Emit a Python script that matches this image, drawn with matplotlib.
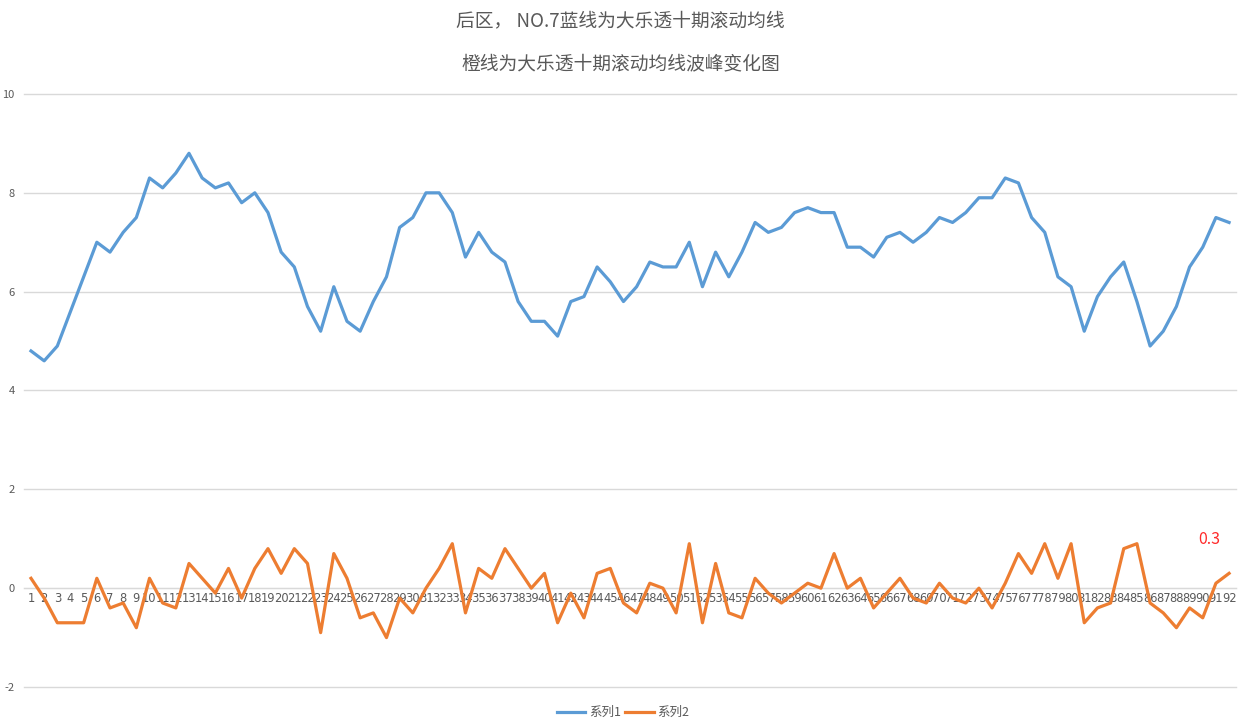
import matplotlib
matplotlib.use("Agg")
import matplotlib.pyplot as plt

plt.rcParams['font.family'] = ['Noto Sans CJK SC', 'DejaVu Sans']

periods = list(range(1, 93))
series1 = [4.8, 4.6, 4.9, 5.6, 6.3, 7.0, 6.8, 7.2, 7.5, 8.3,
           8.1, 8.4, 8.8, 8.3, 8.1, 8.2, 7.8, 8.0, 7.6, 6.8,
           6.5, 5.7, 5.2, 6.1, 5.4, 5.2, 5.8, 6.3, 7.3, 7.5,
           8.0, 8.0, 7.6, 6.7, 7.2, 6.8, 6.6, 5.8, 5.4, 5.4,
           5.1, 5.8, 5.9, 6.5, 6.2, 5.8, 6.1, 6.6, 6.5, 6.5,
           7.0, 6.1, 6.8, 6.3, 6.8, 7.4, 7.2, 7.3, 7.6, 7.7,
           7.6, 7.6, 6.9, 6.9, 6.7, 7.1, 7.2, 7.0, 7.2, 7.5,
           7.4, 7.6, 7.9, 7.9, 8.3, 8.2, 7.5, 7.2, 6.3, 6.1,
           5.2, 5.9, 6.3, 6.6, 5.8, 4.9, 5.2, 5.7, 6.5, 6.9,
           7.5, 7.4]
series2 = [0.2, -0.2, -0.7, -0.7, -0.7, 0.2, -0.4, -0.3, -0.8, 0.2,
           -0.3, -0.4, 0.5, 0.2, -0.1, 0.4, -0.2, 0.4, 0.8, 0.3,
           0.8, 0.5, -0.9, 0.7, 0.2, -0.6, -0.5, -1.0, -0.2, -0.5,
           0.0, 0.4, 0.9, -0.5, 0.4, 0.2, 0.8, 0.4, 0.0, 0.3,
           -0.7, -0.1, -0.6, 0.3, 0.4, -0.3, -0.5, 0.1, 0.0, -0.5,
           0.9, -0.7, 0.5, -0.5, -0.6, 0.2, -0.1, -0.3, -0.1, 0.1,
           0.0, 0.7, 0.0, 0.2, -0.4, -0.1, 0.2, -0.2, -0.3, 0.1,
           -0.2, -0.3, 0.0, -0.4, 0.1, 0.7, 0.3, 0.9, 0.2, 0.9,
           -0.7, -0.4, -0.3, 0.8, 0.9, -0.3, -0.5, -0.8, -0.4, -0.6,
           0.1, 0.3]
series_names = ["系列1", "系列2"]
y_ticks = [-2, 0, 2, 4, 6, 8, 10]
title_lines = ["后区， NO.7蓝线为大乐透十期滚动均线", "橙线为大乐透十期滚动均线波峰变化图"]
note_text = "0.3"

fig = plt.figure(figsize=(12.46, 7.28), dpi=100)
ax = fig.add_axes([0.0196, 0.0563, 0.9721, 0.8146])

ax.plot(periods, series1, color='#5B9BD5', lw=2.3, label=series_names[0], zorder=3)
ax.plot(periods, series2, color='#ED7D31', lw=2.3, label=series_names[1], zorder=3)

ax.set_xlim(0.5, 92.5)
ax.set_ylim(-2, 10)
ax.set_yticks(y_ticks)
ax.set_yticklabels([str(t) for t in y_ticks])
ax.set_xticks(periods)
ax.set_xticklabels([str(p) for p in periods])
ax.grid(axis='y', color='#D9D9D9', lw=1)
for gl in ax.get_ygridlines():
    gl.set_clip_on(False)
ax.set_axisbelow(True)
for s in ['top', 'right', 'left']:
    ax.spines[s].set_visible(False)
ax.spines['bottom'].set_position(('data', 0))
ax.spines['bottom'].set_color('#D9D9D9')
ax.spines['bottom'].set_zorder(1)
ax.tick_params(axis='both', length=0, colors='#595959')
ax.tick_params(axis='y', labelsize=8, pad=7)
ax.tick_params(axis='x', labelsize=8.3, pad=3)
for lab in ax.get_xticklabels():
    lab.set_family(['DejaVu Sans'])

fig.text(0.498, 0.972, title_lines[0], ha='center', va='center', fontsize=13.5, color='#595959')
fig.text(0.498, 0.912, title_lines[1], ha='center', va='center', fontsize=13.5, color='#595959')

ax.text(90.5, 0.98, note_text, ha='center', va='center', fontsize=11.5, color='#FF2A2A')

leg = fig.legend(loc='center', bbox_to_anchor=(0.5, 0.021), ncol=2, frameon=False,
                 fontsize=9, handlelength=2.3, columnspacing=0.3, handletextpad=0.3)
for t in leg.get_texts():
    t.set_color('#595959')

fig.savefig('out.png', dpi=100)
